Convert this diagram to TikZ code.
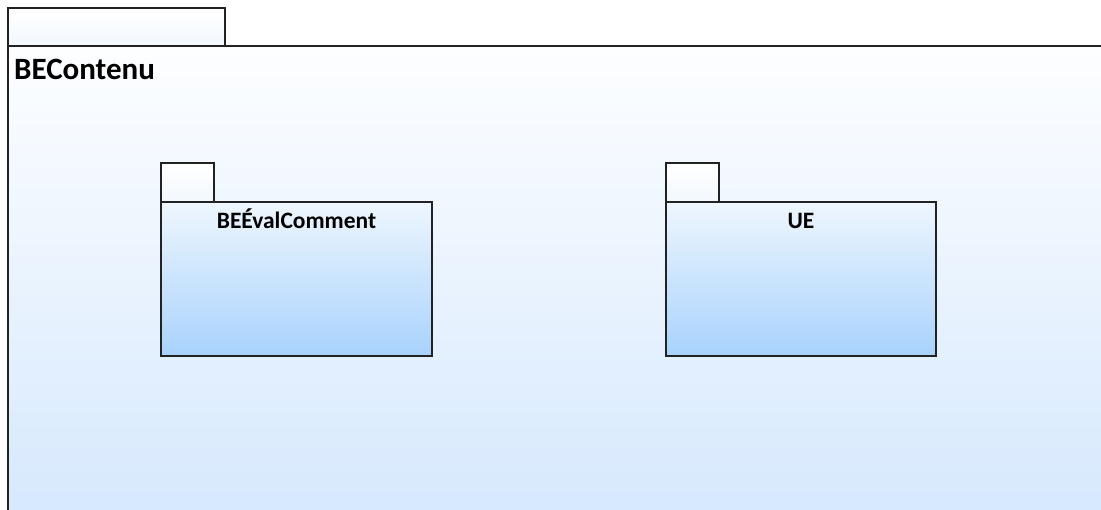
\documentclass[tikz,border=0pt]{standalone}
\usepackage{fontspec}
\setmainfont{Carlito}
\definecolor{outtop}{HTML}{FDFEFF}
\definecolor{outbot}{HTML}{D5E8FD}
\definecolor{intop}{HTML}{EEF6FE}
\definecolor{inbot}{HTML}{A8D2FC}
\definecolor{tabtop}{HTML}{FFFFFF}
\definecolor{tabbot}{HTML}{F2F8FE}
\definecolor{edge}{HTML}{222222}
\tikzset{
  pkgline/.style={draw=edge, line width=1.5pt},
  outerbody/.style={pkgline, top color=outtop, bottom color=outbot},
  innerbody/.style={pkgline, top color=intop, bottom color=inbot},
  tabbox/.style={pkgline, top color=tabtop, bottom color=tabbot},
  bigtitle/.style={font=\fontsize{31}{36}\selectfont\bfseries, inner sep=0pt},
  smalltitle/.style={font=\fontsize{23.5}{28}\selectfont\bfseries, inner sep=0pt},
}
\begin{document}
\begin{tikzpicture}[x=1pt,y=-1pt]
\useasboundingbox (0,0) rectangle (1101,510);
\fill[white] (0,0) rectangle (1101,510);
\begin{scope}
\clip (0,0) rectangle (1101,510);
% outer package
\path[outerbody] (8,46) rectangle (1115,525);
\path[tabbox] (8,8) rectangle (225,46);
\node[bigtitle, anchor=base west] (outerT) at (14,80) {BEContenu};
% BEEvalComment package
\path[innerbody] (161,202) rectangle (432,356);
\path[tabbox] (161,163) rectangle (214,202);
\node[smalltitle, anchor=base] (evalT) at (296.5,229) {BEÉvalComment};
% UE package
\path[innerbody] (666,202) rectangle (936,356);
\path[tabbox] (666,163) rectangle (719,202);
\node[smalltitle, anchor=base] (ueT) at (801,229) {UE};
\end{scope}
\end{tikzpicture}
\end{document}
